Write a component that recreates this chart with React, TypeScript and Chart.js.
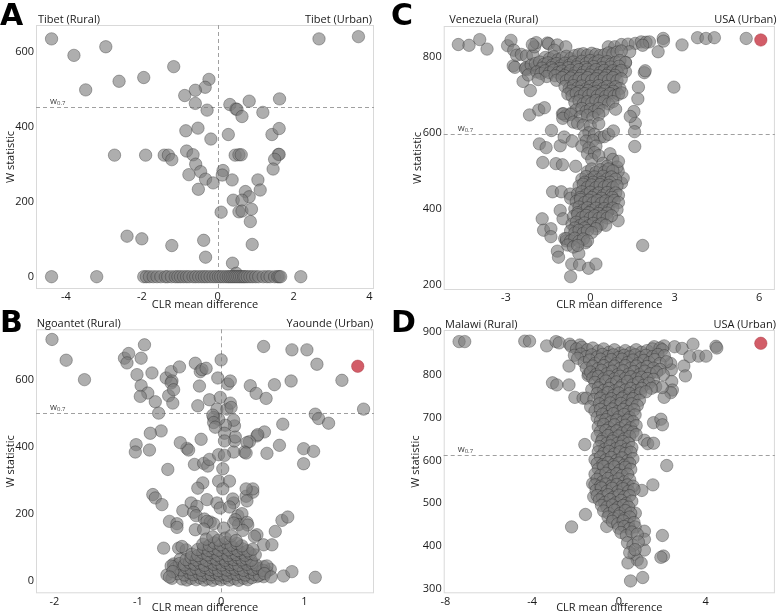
import React, { useEffect, useRef } from "react";
import { Chart, registerables } from "chart.js";
Chart.register(...registerables);

const FONT = "'Open Sans', sans-serif";

// ---------- Panel A : Tibet ----------
const aXTicks = [-4, -2, 0, 2, 4];
const aYTicks = [0, 200, 400, 600];
const aThreshold = 452;
const aPoints: [number, number][] = [
  [-4.38, 634], [-3.79, 590], [-2.95, 613], [-3.48, 498], [-2.6, 521], [-1.95, 531], [-1.16, 560],
  [-0.23, 526], [-0.33, 505], [-0.59, 497], [-0.87, 483], [-0.59, 462], [-0.28, 444], [2.67, 634],
  [3.71, 640], [0.32, 459], [0.48, 447], [0.51, 446], [0.83, 468], [0.64, 427], [1.19, 438],
  [1.63, 474], [-0.84, 389], [-0.52, 396], [-0.18, 367], [0.28, 379], [1.43, 379], [1.62, 395],
  [-2.72, 324], [-1.9, 324], [-1.41, 324], [-1.3, 324], [-1.21, 312], [-0.82, 335], [-0.65, 325],
  [-0.58, 300], [-0.45, 280], [-0.76, 272], [-0.32, 260], [-0.12, 250], [0.14, 283], [0.12, 271],
  [0.38, 258], [0.46, 324], [0.56, 325], [0.62, 325], [1.6, 326], [1.62, 326], [1.5, 313],
  [1.46, 287], [1.06, 258], [1.12, 231], [0.73, 227], [0.83, 213], [0.41, 204], [0.64, 204],
  [-0.51, 233], [0.09, 172], [0.56, 173], [0.64, 175], [0.89, 180], [0.86, 147], [0.91, 86],
  [-2.39, 108], [-2.0, 101], [-1.21, 83], [-0.37, 97], [-0.32, 52], [0.39, 36], [0.49, 9],
  [-4.38, 0], [-3.19, 0], [2.19, 0],
  [-1.95, 0], [-1.88, 0], [-1.8, 0], [-1.7, 0], [-1.6, 0], [-1.5, 0], [-1.38, 0], [-1.32, 0],
  [-1.22, 0], [-1.12, 0], [-1.05, 0], [-0.98, 0], [-0.9, 0], [-0.82, 0], [-0.75, 0], [-0.65, 0],
  [-0.58, 0], [-0.5, 0], [-0.42, 0], [-0.35, 0], [-0.28, 0], [-0.2, 0], [-0.12, 0], [-0.05, 0],
  [0.02, 0], [0.08, 0], [0.15, 0], [0.22, 0], [0.28, 0], [0.33, 0], [0.38, 0], [0.43, 0],
  [0.48, 0], [0.53, 0], [0.58, 0], [0.63, 0], [0.68, 0], [0.72, 0], [0.78, 0], [0.85, 0],
  [0.92, 0], [1.0, 0], [1.08, 0], [1.2, 0], [1.3, 0], [1.38, 0], [1.5, 0], [1.58, 0], [1.62, 0], [1.66, 0],
];
const aRed: [number, number][] = [];

// ---------- Panel B : Ngoantet vs Yaounde ----------
const bXTicks = [-2, -1, 0, 1];
const bYTicks = [0, 200, 400, 600];
const bThreshold = 502;
const bPoints: [number, number][] = [
  [-2.03, 721], [-1.86, 659], [-1.64, 601], [-1.16, 665], [-1.11, 679], [-1.13, 651], [-0.92, 705],
  [-0.96, 665], [-1.01, 616], [-0.96, 583], [-0.88, 561], [-0.97, 551], [-0.83, 621], [-0.79, 535],
  [-0.75, 501], [-0.66, 606], [-0.6, 625], [-0.59, 597], [-0.6, 591], [-0.63, 553], [-0.57, 571],
  [-0.58, 531], [-0.5, 639], [-0.31, 650], [-0.25, 625], [-0.23, 631], [-0.18, 635], [-0.26, 582],
  [-0.28, 523], [-0.14, 541], [0.0, 660], [-0.04, 606], [-0.01, 548], [0.08, 588], [0.11, 597],
  [-0.05, 513], [0.07, 513], [0.11, 531], [0.12, 518], [0.35, 583], [0.42, 560], [0.51, 700],
  [0.54, 545], [0.64, 586], [0.85, 690], [0.84, 597], [1.03, 690], [1.15, 647], [1.45, 599],
  [1.71, 513], [1.13, 498], [1.17, 485], [1.29, 471], [0.74, 468], [0.52, 445], [0.43, 433],
  [0.44, 437], [0.34, 416], [0.31, 413], [0.7, 405], [0.99, 395], [1.11, 387], [0.99, 350],
  [0.55, 381], [0.28, 385], [0.3, 382], [0.15, 385], [0.16, 418], [0.17, 430], [0.16, 463],
  [0.15, 480], [0.05, 465], [0.04, 441], [0.04, 418], [-0.03, 483], [-0.09, 488], [-0.1, 495],
  [-0.09, 473], [-0.07, 459], [-0.24, 423], [-0.41, 396], [-0.39, 391], [-0.49, 413], [-0.72, 448],
  [-0.85, 441], [-0.86, 391], [-1.02, 407], [-1.03, 385], [-0.64, 333], [-0.32, 348], [-0.21, 351],
  [-0.16, 343], [-0.14, 363], [-0.03, 377], [0.04, 375], [0.02, 335], [-0.03, 298], [0.1, 298],
  [0.02, 275], [-0.22, 293], [-0.28, 277], [-0.82, 258], [-0.79, 248], [-0.71, 228], [-0.36, 233],
  [-0.29, 223], [-0.17, 243], [-0.05, 233], [-0.01, 218], [0.15, 233], [0.14, 245], [0.1, 221],
  [0.3, 253], [0.38, 265], [0.38, 275], [0.3, 275], [0.31, 239], [-0.46, 210], [-0.62, 178],
  [-0.53, 171], [-0.53, 160], [-0.33, 205], [-0.3, 195], [-0.2, 185], [-0.13, 176], [-0.09, 171],
  [-0.17, 178], [0.2, 195], [0.25, 201], [0.17, 183], [0.21, 168], [0.31, 175], [0.32, 167],
  [0.26, 151], [0.15, 173], [0.73, 181], [0.8, 191], [0.65, 148], [0.43, 138], [0.4, 133],
  [-0.31, 153], [-0.21, 155], [0.03, 158], [-0.69, 98], [-0.51, 98], [-0.42, 93], [-0.47, 103],
  [0.51, 108], [0.61, 108], [-0.57, 51], [-0.49, 65], [-0.57, 43], [-0.65, 18], [-0.59, 8],
  [0.75, 15], [0.85, 28], [1.13, 11], [0.55, 28], [0.59, 35], [0.51, 43], [0.51, 13], [0.43, 13],
  [-0.47, 6], [-0.41, 3], [-0.36, 8], [-0.3, 4], [-0.25, 9], [-0.2, 3], [-0.15, 7], [-0.1, 2],
  [-0.05, 8], [0.0, 4], [0.05, 9], [0.1, 3], [0.16, 7], [0.21, 2], [0.27, 8], [0.32, 4], [0.37, 10],
  [-0.52, 22], [-0.44, 18], [-0.38, 25], [-0.33, 19], [-0.27, 24], [-0.22, 17], [-0.17, 23],
  [-0.12, 19], [-0.07, 25], [-0.02, 18], [0.03, 22], [0.08, 17], [0.13, 24], [0.19, 20], [0.24, 23],
  [0.29, 18], [0.35, 25], [0.4, 20], [0.46, 17],
  [-0.55, 38], [-0.48, 33], [-0.42, 40], [-0.36, 35], [-0.3, 38], [-0.24, 32], [-0.19, 40],
  [-0.13, 34], [-0.08, 39], [-0.03, 31], [0.02, 38], [0.07, 33], [0.12, 40], [0.17, 35], [0.22, 38],
  [0.27, 32], [0.33, 40], [0.38, 35], [0.44, 38], [0.5, 32],
  [-0.5, 52], [-0.44, 48], [-0.38, 55], [-0.32, 50], [-0.26, 54], [-0.2, 47], [-0.14, 56], [-0.09, 50],
  [-0.04, 54], [0.01, 48], [0.06, 55], [0.11, 49], [0.16, 53], [0.21, 47], [0.26, 56], [0.31, 50],
  [0.37, 54], [0.42, 48],
  [-0.42, 64], [-0.36, 70], [-0.3, 63], [-0.24, 68], [-0.18, 62], [-0.12, 70], [-0.06, 65], [0.0, 69],
  [0.05, 62], [0.1, 68], [0.15, 64], [0.2, 70], [0.25, 63], [0.3, 67], [0.36, 62],
  [-0.35, 80], [-0.28, 76], [-0.22, 84], [-0.16, 78], [-0.1, 85], [-0.04, 77], [0.02, 83], [0.08, 76],
  [0.13, 84], [0.18, 79], [0.24, 85], [0.29, 77], [0.35, 82], [0.41, 78],
  [-0.28, 94], [-0.21, 99], [-0.15, 91], [-0.09, 97], [-0.03, 92], [0.03, 100], [0.09, 93], [0.15, 98],
  [0.2, 91], [0.26, 96], [0.32, 90], [0.38, 95],
  [-0.22, 110], [-0.14, 106], [-0.08, 114], [-0.01, 108], [0.06, 115], [0.12, 107], [0.19, 112], [0.25, 105],
  [-0.18, 125], [-0.1, 132], [-0.03, 122], [0.05, 128], [0.12, 135], [0.18, 121],
  [-0.6, 45], [-0.58, 28], [0.55, 45], [0.52, 22], [0.6, 12], [-0.62, 12],
];
const bRed: [number, number][] = [[1.64, 641]];

// ---------- Panel C : Venezuela vs USA ----------
const cXTicks = [-3, 0, 3, 6];
const cYTicks = [200, 400, 600, 800];
const cThreshold = 597;
const cPoints: [number, number][] = [
  [-4.69, 832], [-4.31, 830], [-3.93, 845], [-3.67, 820], [-2.94, 829], [-2.82, 843], [-2.72, 817],
  [-2.74, 776], [-2.68, 772], [-2.62, 804], [-2.45, 806], [-2.27, 802], [-2.04, 804], [-1.98, 826],
  [-1.92, 837], [-2.06, 832], [-2.29, 771], [-2.24, 766], [-1.98, 771], [-1.88, 776], [-1.52, 836],
  [-1.48, 834], [-1.17, 831], [-0.87, 826], [-1.28, 817], [0.64, 826], [0.87, 826], [1.11, 832],
  [1.34, 833], [1.6, 835], [1.81, 839], [1.98, 838], [2.1, 839], [1.86, 830], [1.4, 813], [1.25, 784],
  [1.25, 761], [2.41, 813], [2.59, 848], [2.6, 841], [3.26, 831], [3.81, 850], [4.11, 848],
  [4.41, 850], [5.54, 848], [2.97, 720], [1.92, 758], [1.95, 763], [1.71, 720], [1.69, 689],
  [1.55, 656], [1.6, 625], [1.57, 603], [1.58, 564], [1.42, 643],
  [-2.39, 735], [-2.13, 711], [-2.16, 647], [-1.83, 660], [-1.63, 666], [-1.38, 606], [-1.81, 571],
  [-1.57, 561], [-1.69, 522], [-1.22, 519], [-0.99, 516], [-1.07, 566], [-0.93, 589], [-0.99, 650],
  [-0.87, 645], [-0.64, 578], [-0.52, 512], [-0.66, 652],
  [-1.34, 445], [-1.03, 445], [-1.71, 374], [-1.66, 344], [-1.4, 348], [-1.4, 327], [-1.07, 396],
  [-0.97, 374], [-0.72, 439], [-0.7, 428], [-0.91, 322], [-0.85, 316], [-1.17, 289], [-1.13, 273],
  [-0.66, 255], [-0.38, 253], [-0.06, 244], [0.2, 255], [-0.7, 222], [-0.41, 283], [-0.17, 311],
  [1.86, 304], [0.99, 369], [1.11, 468], [1.17, 481], [0.99, 499],
  [-1.6, 798], [-1.45, 795], [-1.3, 800], [-1.15, 792], [-1.0, 797], [-0.85, 801], [-0.7, 795],
  [-0.55, 803], [-0.4, 806], [-0.25, 808], [-0.1, 804], [0.05, 809], [0.2, 806], [0.35, 803],
  [0.5, 805], [0.65, 810], [0.8, 807], [0.95, 812], [1.1, 815],
  [-2.3, 768], [-2.1, 778], [-1.95, 782], [-1.8, 786], [-1.65, 780], [-1.5, 784], [-1.35, 778],
  [-1.2, 782], [-1.05, 776], [-0.9, 783], [-0.75, 778], [-0.6, 786], [-0.45, 780], [-0.3, 788],
  [-0.15, 782], [0.0, 790], [0.15, 784], [0.3, 789], [0.45, 782], [0.6, 787], [0.75, 781],
  [0.9, 785], [1.05, 790], [1.25, 785],
  [-1.72, 770], [-1.38, 771], [-1.08, 769], [-0.78, 771], [-0.48, 773], [-0.18, 772], [0.12, 774],
  [0.42, 771], [0.72, 773], [1.02, 775],
  [-2.2, 752], [-1.9, 760], [-1.75, 756], [-1.6, 763], [-1.45, 758], [-1.3, 765], [-1.15, 758],
  [-1.0, 762], [-0.85, 755], [-0.7, 764], [-0.55, 757], [-0.4, 766], [-0.25, 759], [-0.1, 767],
  [0.05, 760], [0.2, 766], [0.35, 758], [0.5, 764], [0.65, 757], [0.8, 763], [0.95, 759], [1.1, 764],
  [-1.55, 748], [-1.25, 750], [-0.92, 750], [-0.62, 749], [-0.32, 751], [-0.02, 752], [0.28, 750],
  [0.58, 751], [0.88, 751],
  [-1.85, 740], [-1.2, 738], [-1.0, 745], [-0.85, 737], [-0.7, 744], [-0.55, 736], [-0.4, 743],
  [-0.25, 738], [-0.1, 745], [0.05, 737], [0.2, 742], [0.35, 736], [0.5, 744], [0.65, 738],
  [0.8, 745], [0.95, 737], [1.1, 742],
  [-0.9, 722], [-0.75, 716], [-0.6, 724], [-0.45, 718], [-0.3, 723], [-0.15, 715], [0.0, 722],
  [0.15, 717], [0.3, 724], [0.45, 716], [0.6, 722], [0.75, 715], [0.9, 721], [1.05, 716],
  [-0.68, 710], [-0.38, 709], [-0.08, 711], [0.22, 709], [0.52, 710], [0.82, 709],
  [-0.8, 702], [-0.65, 697], [-0.5, 704], [-0.35, 696], [-0.2, 703], [-0.05, 698], [0.1, 705],
  [0.25, 697], [0.4, 702], [0.55, 696], [0.7, 703], [0.85, 697], [1.0, 701], [1.12, 705],
  [-0.55, 680], [-0.4, 684], [-0.25, 676], [-0.1, 682], [0.05, 678], [0.2, 685], [0.35, 679],
  [0.5, 683], [0.65, 676], [0.8, 682],
  [-0.5, 660], [-0.3, 664], [-0.15, 656], [0.0, 662], [0.15, 657], [0.3, 664], [0.45, 658], [0.9, 662],
  [-0.95, 650], [-0.98, 638], [-0.7, 648], [-0.35, 642], [-0.1, 646], [0.1, 640], [0.3, 648],
  [-0.6, 628], [-0.45, 625], [-0.25, 620], [0.0, 618], [0.3, 624], [-0.05, 600], [-0.2, 592],
  [0.15, 596], [0.35, 588], [-0.15, 578], [0.1, 580], [0.5, 590], [0.65, 596], [0.82, 605],
  [-0.3, 565], [-0.05, 560], [0.2, 565], [-0.1, 545], [0.15, 548], [0.05, 530], [0.3, 540],
  [0.45, 520], [0.7, 545], [0.8, 530], [0.6, 512], [0.95, 510], [1.0, 525],
  [-0.1, 498], [0.05, 505], [0.2, 496], [0.35, 503], [0.5, 497], [0.65, 505], [0.8, 500],
  [-0.3, 478], [-0.15, 485], [0.0, 476], [0.15, 484], [0.3, 477], [0.45, 486], [0.6, 479],
  [0.75, 484], [0.9, 478],
  [-0.2, 470], [0.1, 470], [0.4, 470], [0.7, 470],
  [-0.4, 460], [-0.25, 465], [-0.1, 457], [0.05, 463], [0.2, 456], [0.35, 464], [0.5, 458],
  [0.65, 462], [0.8, 456], [0.95, 461],
  [-0.45, 440], [-0.3, 445], [-0.15, 437], [0.0, 444], [0.15, 436], [0.3, 442], [0.45, 435],
  [0.6, 443], [0.75, 437], [0.9, 442], [1.0, 436],
  [-0.35, 430], [0.05, 430], [0.4, 428], [0.78, 430],
  [-0.5, 420], [-0.35, 425], [-0.2, 417], [-0.05, 423], [0.1, 416], [0.25, 422], [0.4, 415],
  [0.55, 421], [0.7, 416], [0.85, 422], [1.0, 417],
  [-0.55, 400], [-0.4, 405], [-0.25, 397], [-0.1, 403], [0.05, 396], [0.2, 402], [0.35, 395],
  [0.5, 401], [0.65, 396], [0.8, 402], [0.95, 398],
  [-0.45, 390], [-0.05, 390], [0.3, 388], [0.6, 389],
  [-0.6, 380], [-0.45, 385], [-0.3, 377], [-0.15, 383], [0.0, 376], [0.15, 382], [0.3, 375],
  [0.45, 381], [0.6, 376], [0.75, 382],
  [-0.65, 360], [-0.5, 365], [-0.35, 357], [-0.2, 363], [-0.05, 356], [0.1, 362], [0.25, 355],
  [0.4, 361], [0.55, 357],
  [-0.55, 350], [-0.2, 350], [0.2, 348],
  [-0.7, 342], [-0.55, 337], [-0.4, 344], [-0.25, 336], [-0.1, 343], [0.05, 338],
  [-0.85, 322], [-0.7, 316], [-0.55, 323], [-0.4, 315], [-0.25, 321], [-0.1, 316],
  [-0.8, 305], [-0.6, 300], [-0.45, 304],
];
const cRed: [number, number][] = [[6.06, 844]];

// ---------- Panel D : Malawi vs USA ----------
const dXTicks = [-8, -4, 0, 4];
const dYTicks = [300, 400, 500, 600, 700, 800, 900];
const dThreshold = 613;
const dPoints: [number, number][] = [
  [-7.37, 877], [-7.11, 877], [-4.34, 878], [-4.12, 878], [-3.33, 867], [-2.9, 877], [-2.75, 874],
  [-2.27, 871], [-1.8, 869], [-2.3, 820], [-3.06, 781], [-2.86, 776], [-2.3, 776], [-2.03, 747],
  [-1.65, 745], [1.63, 865], [2.09, 867], [2.57, 865], [2.92, 861], [3.42, 871], [3.68, 843],
  [4.02, 843], [3.27, 842], [3.0, 820], [3.07, 797], [4.48, 866], [4.52, 862], [2.39, 826],
  [2.42, 811], [2.44, 784], [2.47, 764], [2.4, 758], [2.09, 747], [1.6, 688], [1.94, 696],
  [2.01, 683], [1.18, 647], [1.33, 639], [1.6, 640], [2.21, 588], [1.57, 543], [1.06, 530],
  [0.76, 477], [1.18, 435], [2.01, 425], [2.06, 377], [1.94, 374], [1.18, 391], [1.18, 416],
  [0.7, 381], [0.85, 368], [1.03, 361], [0.42, 361], [0.54, 319], [1.1, 327], [-2.18, 445],
  [-0.56, 446], [-1.54, 474], [-1.57, 637], [-1.21, 546], [-1.16, 515], [-1.42, 798], [-1.39, 802],
  [-2.2, 866], [-1.95, 860], [-1.7, 864], [-1.45, 858], [-1.2, 862], [-0.95, 855], [-0.7, 860],
  [-0.45, 852], [-0.2, 858], [0.05, 850], [0.3, 856], [0.55, 851], [0.8, 858], [1.05, 852],
  [1.3, 856], [1.55, 860], [1.9, 862], [2.0, 858],
  [-2.05, 845], [-1.75, 848], [-1.5, 842], [-1.25, 846], [-1.0, 841], [-0.75, 847], [-0.5, 842],
  [-0.25, 846], [0.0, 840], [0.25, 845], [0.5, 841], [0.75, 846], [1.0, 840], [1.25, 845],
  [1.55, 842], [1.8, 847], [2.1, 844],
  [-1.9, 838], [-1.6, 828], [-1.35, 834], [-1.1, 826], [-0.85, 836], [-0.6, 828], [-0.35, 835],
  [-0.1, 826], [0.15, 836], [0.4, 828], [0.65, 834], [0.9, 826], [1.15, 833], [1.4, 828],
  [1.65, 835], [1.9, 826], [2.2, 830],
  [-1.5, 815], [-1.2, 820], [-0.95, 814], [-0.7, 821], [-0.45, 815], [-0.2, 820], [0.05, 814],
  [0.3, 821], [0.55, 815], [0.8, 820], [1.05, 814], [1.3, 819], [1.6, 815], [1.9, 812],
  [-1.3, 806], [-1.05, 800], [-0.8, 810], [-0.55, 802], [-0.3, 808], [-0.05, 800], [0.2, 809],
  [0.45, 801], [0.7, 807], [0.95, 800], [1.2, 808], [1.45, 802], [1.75, 806], [2.05, 800],
  [-1.2, 792], [-0.95, 796], [-0.7, 790], [-0.45, 795], [-0.2, 790], [0.05, 796], [0.3, 791],
  [0.55, 795], [0.8, 790], [1.05, 794], [1.3, 791], [1.6, 789],
  [-1.1, 782], [-0.85, 776], [-0.6, 785], [-0.35, 777], [-0.1, 783], [0.15, 775], [0.4, 784],
  [0.65, 776], [0.9, 782], [1.15, 775], [1.4, 780], [1.7, 772], [2.0, 770],
  [-1.25, 765], [-0.95, 769], [-0.7, 763], [-0.45, 768], [-0.2, 762], [0.05, 769], [0.3, 764],
  [0.55, 768], [0.8, 763], [1.05, 768], [1.5, 768],
  [-1.5, 745], [-1.0, 756], [-0.75, 750], [-0.5, 758], [-0.25, 751], [0.0, 757], [0.25, 749],
  [0.5, 756], [0.75, 750], [1.0, 757], [1.25, 760],
  [-1.15, 742], [-0.85, 745], [-0.6, 740], [-0.35, 744], [-0.1, 739], [0.15, 745], [0.4, 740],
  [0.65, 744], [0.95, 740],
  [-1.3, 725], [-0.9, 732], [-0.65, 726], [-0.4, 734], [-0.15, 727], [0.1, 733], [0.35, 726],
  [0.6, 732], [0.85, 728],
  [-1.1, 715], [-0.85, 719], [-0.55, 714], [-0.3, 720], [-0.05, 714], [0.2, 719], [0.45, 714], [0.7, 718],
  [-1.0, 700], [-0.75, 708], [-0.5, 702], [-0.25, 709], [0.0, 701], [0.25, 707], [0.5, 700], [0.75, 706],
  [-0.85, 692], [-0.6, 695], [-0.35, 690], [-0.1, 694], [0.15, 689], [0.4, 694], [0.65, 690],
  [-0.95, 678], [-0.7, 684], [-0.45, 676], [-0.2, 683], [0.05, 675], [0.3, 682], [0.55, 676], [0.8, 681],
  [-0.85, 667], [-0.6, 670], [-0.35, 665], [-0.1, 669], [0.15, 664], [0.4, 669], [0.65, 666],
  [-1.0, 656], [-0.75, 650], [-0.5, 658], [-0.25, 651], [0.0, 657], [0.25, 650], [0.5, 656], [0.8, 660],
  [-0.8, 644], [-0.55, 640], [-0.3, 645], [-0.05, 640], [0.2, 644], [0.45, 640],
  [-0.9, 632], [-0.65, 626], [-0.4, 634], [-0.15, 627], [0.1, 633], [0.35, 626], [0.6, 630],
  [-0.95, 620], [-0.7, 616], [-0.45, 621], [-0.2, 615], [0.05, 620], [0.3, 616], [0.55, 619],
  [-1.1, 602], [-0.85, 608], [-0.6, 601], [-0.35, 607], [-0.1, 600], [0.15, 606], [0.4, 599], [0.65, 604],
  [-1.0, 593], [-0.75, 590], [-0.5, 595], [-0.25, 590], [0.0, 594], [0.25, 589], [0.5, 593],
  [-0.95, 580], [-0.7, 586], [-0.45, 578], [-0.2, 585], [0.05, 577], [0.3, 584], [0.55, 579],
  [-1.1, 568], [-0.85, 565], [-0.6, 570], [-0.35, 564], [-0.1, 569], [0.15, 565], [0.4, 568],
  [-1.0, 556], [-0.75, 550], [-0.5, 558], [-0.25, 551], [0.0, 557], [0.25, 550], [0.5, 555],
  [-1.1, 543], [-0.85, 540], [-0.6, 545], [-0.35, 540], [-0.1, 544], [0.15, 539], [0.4, 543], [0.65, 540],
  [-1.05, 530], [-0.8, 536], [-0.55, 528], [-0.3, 535], [-0.05, 527], [0.2, 534], [0.45, 528], [0.7, 532],
  [-1.0, 518], [-0.75, 515], [-0.5, 520], [-0.25, 514], [0.0, 519], [0.25, 515], [0.5, 518],
  [-0.9, 508], [-0.65, 502], [-0.4, 509], [-0.15, 501], [0.1, 507], [0.35, 500], [0.6, 505],
  [-0.8, 495], [-0.55, 491], [-0.3, 496], [-0.05, 490], [0.2, 495], [0.45, 491],
  [-0.7, 482], [-0.45, 476], [-0.2, 484], [0.05, 476], [0.3, 483], [0.55, 477],
  [-0.5, 468], [-0.25, 465], [0.0, 470], [0.25, 464], [0.5, 468],
  [-0.3, 458], [-0.05, 452], [0.2, 459], [0.45, 451], [0.7, 455],
  [0.0, 442], [0.25, 446], [0.5, 441], [0.75, 445],
  [0.1, 432], [0.35, 425], [0.6, 433], [0.85, 428],
  [0.4, 408], [0.65, 402], [0.9, 410], [0.5, 385], [0.75, 392],
];
const dRed: [number, number][] = [[6.55, 873]];

// ---------- Panel layout ----------
type Panel = {
  letter: string; left: string; right: string;
  points: [number, number][]; red: [number, number][];
  xTicks: number[]; yTicks: number[]; threshold: number; zeroLine: boolean;
  xMin: number; xMax: number; yMin: number; yMax: number;
  box: { x: number; y: number; w: number; h: number };
  pad: { top: number; right: number }; yW: number; xH: number;
  yTitlePad: number; letterBase: number; subBase: number; leftInset: number; rightInset: number;
};

const panels: Panel[] = [
  {
    letter: "A", left: "Tibet (Rural)", right: "Tibet (Urban)", points: aPoints, red: aRed,
    xTicks: aXTicks, yTicks: aYTicks, threshold: aThreshold, zeroLine: true,
    xMin: -4.79, xMax: 4.12, yMin: -32.8, yMax: 671,
    box: { x: 0, y: 0, w: 391, h: 310 }, pad: { top: 25, right: 17 }, yW: 36, xH: 21,
    yTitlePad: 4, letterBase: 25, subBase: 23, leftInset: 2, rightInset: 2,
  },
  {
    letter: "B", left: "Ngoantet (Rural)", right: "Yaounde (Urban)", points: bPoints, red: bRed,
    xTicks: bXTicks, yTicks: bYTicks, threshold: bThreshold, zeroLine: true,
    xMin: -2.222, xMax: 1.835, yMin: -36.7, yMax: 751.3,
    box: { x: 0, y: 310, w: 391, h: 303 }, pad: { top: 19.3, right: 17 }, yW: 36, xH: 19.7,
    yTitlePad: 4, letterBase: 21.7, subBase: 16.7, leftInset: 0.7, rightInset: 0.7,
  },
  {
    letter: "C", left: "Venezuela (Rural)", right: "USA (Urban)", points: cPoints, red: cRed,
    xTicks: cXTicks, yTicks: cYTicks, threshold: cThreshold, zeroLine: false,
    xMin: -5.21, xMax: 6.56, yMin: 186.9, yMax: 880.7,
    box: { x: 391, y: 0, w: 391, h: 310 }, pad: { top: 26, right: 1.7 }, yW: 52.7, xH: 20,
    yTitlePad: 20, letterBase: 25, subBase: 23.3, leftInset: 5.6, rightInset: -1.7,
  },
  {
    letter: "D", left: "Malawi (Rural)", right: "USA (Urban)", points: dPoints, red: dRed,
    xTicks: dXTicks, yTicks: dYTicks, threshold: dThreshold, zeroLine: false,
    xMin: -8.08, xMax: 7.2, yMin: 290.2, yMax: 904,
    box: { x: 391, y: 310, w: 391, h: 303 }, pad: { top: 20, right: 1.7 }, yW: 52.7, xH: 19.7,
    yTitlePad: 18.4, letterBase: 21.7, subBase: 18.3, leftInset: 1.3, rightInset: -1,
  },
];

const decorPlugin = {
  id: "panelDecor",
  beforeDatasetsDraw(chart: any, _a: any, o: any) {
    const { ctx, chartArea: a, scales } = chart;
    ctx.save();
    ctx.strokeStyle = "#d9d9d9";
    ctx.lineWidth = 1;
    ctx.strokeRect(a.left + 0.5, a.top + 0.5, a.right - a.left - 1, a.bottom - a.top - 1);
    ctx.setLineDash([4, 3]);
    ctx.strokeStyle = "#a0a0a0";
    const yT = Math.round(scales.y.getPixelForValue(o.threshold)) + 0.5;
    ctx.beginPath();
    ctx.moveTo(a.left, yT);
    ctx.lineTo(a.right, yT);
    ctx.stroke();
    if (o.zeroLine) {
      const x0 = Math.round(scales.x.getPixelForValue(0)) + 0.5;
      ctx.beginPath();
      ctx.moveTo(x0, a.top);
      ctx.lineTo(x0, a.bottom);
      ctx.stroke();
    }
    ctx.setLineDash([]);
    ctx.fillStyle = "#444";
    ctx.textBaseline = "alphabetic";
    ctx.textAlign = "left";
    ctx.font = `9px ${FONT}`;
    const lx = a.left + 14;
    ctx.fillText("w", lx, yT - 4);
    const w = ctx.measureText("w").width;
    ctx.font = `6px ${FONT}`;
    ctx.fillText("0.7", lx + w, yT - 2.5);
    ctx.restore();
  },
  afterDraw(chart: any, _a: any, o: any) {
    const { ctx, chartArea: a } = chart;
    ctx.save();
    ctx.fillStyle = "#000";
    ctx.textBaseline = "alphabetic";
    ctx.textAlign = "left";
    ctx.font = `bold 30px 'DejaVu Sans', sans-serif`;
    ctx.fillText(o.letter, 0, o.letterBase);
    ctx.fillStyle = "#1a1a1a";
    ctx.font = `11px ${FONT}`;
    ctx.fillText(o.left, a.left + o.leftInset, o.subBase);
    ctx.textAlign = "right";
    ctx.fillText(o.right, a.right - o.rightInset, o.subBase);
    ctx.restore();
  },
};

function buildConfig(p: Panel): any {
  const tickFont = { family: FONT, size: 11 };
  return {
    type: "scatter",
    data: {
      datasets: [
        {
          data: p.points.map(([x, y]) => ({ x, y })),
          backgroundColor: "rgba(125,125,125,0.62)",
          borderColor: "rgba(35,35,35,0.38)",
          borderWidth: 0.9,
          pointRadius: 6.2,
          pointHoverRadius: 6.2,
        },
        {
          data: p.red.map(([x, y]) => ({ x, y })),
          backgroundColor: "rgba(208,84,96,0.95)",
          borderColor: "rgba(170,60,70,0.6)",
          borderWidth: 0.8,
          pointRadius: 6.2,
        },
      ],
    },
    options: {
      responsive: false,
      maintainAspectRatio: false,
      animation: false,
      devicePixelRatio: 1,
      events: [],
      layout: { padding: { left: 0, top: p.pad.top, right: p.pad.right, bottom: 0 } },
      plugins: {
        legend: { display: false },
        tooltip: { enabled: false },
        panelDecor: {
          letter: p.letter, left: p.left, right: p.right, threshold: p.threshold,
          zeroLine: p.zeroLine, letterBase: p.letterBase, subBase: p.subBase,
          leftInset: p.leftInset, rightInset: p.rightInset,
        },
      },
      scales: {
        x: {
          type: "linear",
          min: p.xMin,
          max: p.xMax,
          afterBuildTicks: (s: any) => { s.ticks = p.xTicks.map((v) => ({ value: v })); },
          afterFit: (s: any) => { s.height = p.xH; },
          grid: { display: false, drawTicks: false },
          border: { display: false },
          ticks: { font: tickFont, color: "#1a1a1a", padding: 1.5, autoSkip: false, maxRotation: 0 },
          title: {
            display: true, text: "CLR mean difference", color: "#1a1a1a",
            font: { family: FONT, size: 11, lineHeight: 1 }, padding: { top: 0, bottom: 0 },
          },
        },
        y: {
          type: "linear",
          min: p.yMin,
          max: p.yMax,
          afterBuildTicks: (s: any) => { s.ticks = p.yTicks.map((v) => ({ value: v })); },
          afterFit: (s: any) => { s.width = p.yW; },
          grid: { display: false, drawTicks: false },
          border: { display: false },
          ticks: { font: tickFont, color: "#1a1a1a", padding: 2, autoSkip: false },
          title: {
            display: true, text: "W statistic", color: "#1a1a1a",
            font: { family: FONT, size: 11, lineHeight: 1.2 }, padding: { top: p.yTitlePad, bottom: 0 },
          },
        },
      },
    },
    plugins: [decorPlugin],
  };
}

function PanelChart({ p }: { p: Panel }) {
  const ref = useRef<HTMLCanvasElement>(null);
  useEffect(() => {
    if (!ref.current) return;
    const chart = new Chart(ref.current, buildConfig(p));
    return () => chart.destroy();
  }, [p]);
  return (
    <canvas
      ref={ref}
      width={p.box.w}
      height={p.box.h}
      style={{ position: "absolute", left: p.box.x, top: p.box.y, width: p.box.w, height: p.box.h }}
    />
  );
}

export default function App() {
  return (
    <div style={{ position: "absolute", left: 0, top: 0, width: 782, height: 613, background: "#fff", overflow: "hidden" }}>
      {panels.map((p) => (
        <PanelChart key={p.letter} p={p} />
      ))}
    </div>
  );
}
